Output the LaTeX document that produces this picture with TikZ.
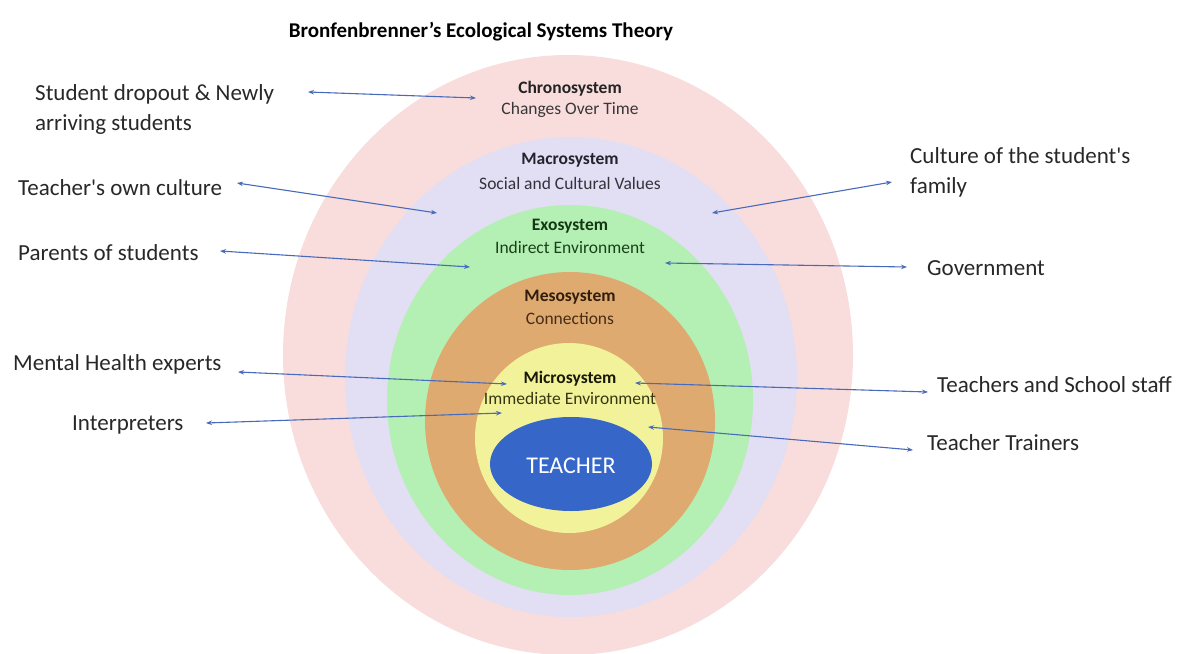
\documentclass[tikz,border=0pt]{standalone}
\usepackage{fontspec}
\setmainfont[Ligatures=TeXOff]{Carlito}
\usetikzlibrary{shapes.geometric,arrows.meta}
\definecolor{ringpink}{RGB}{249,221,221}
\definecolor{ringlav}{RGB}{226,222,243}
\definecolor{ringgreen}{RGB}{180,240,180}
\definecolor{ringbrown}{RGB}{222,170,112}
\definecolor{ringyellow}{RGB}{242,242,155}
\definecolor{coreblue}{RGB}{53,102,200}
\definecolor{arrowblue}{RGB}{72,106,186}
\definecolor{labelgray}{RGB}{40,40,40}
\tikzset{
  ring/.style={ellipse, draw=none, inner sep=0pt},
  sidelabel/.style={anchor=base west, inner sep=0pt, text=labelgray, font=\fontsize{23}{28}\selectfont},
  ringtitle/.style={anchor=base, inner sep=0pt, font=\fontsize{17.5}{20}\selectfont\bfseries},
  ringsub/.style={anchor=base, inner sep=0pt, font=\fontsize{17.5}{20}\selectfont},
  link/.style={draw=arrowblue, line width=1.1pt, {Stealth[length=6pt,width=4.5pt]}-{Stealth[length=6pt,width=4.5pt]}}
}
\begin{document}
\begin{tikzpicture}[x=1pt,y=-1pt]
\useasboundingbox (0,0) rectangle (1180,653);
\fill[white] (0,0) rectangle (1180,653);
\begin{scope}
\clip (0,0) rectangle (1180,653);
\node[ring, fill=ringpink, minimum width=570pt, minimum height=600pt] (chrono) at (568,355) {};
\node[ring, fill=ringlav, minimum width=452pt, minimum height=480pt] (macro) at (571,377) {};
\node[ring, fill=ringgreen, minimum width=366pt, minimum height=390pt] (exo) at (570,400) {};
\node[ring, fill=ringbrown, minimum width=290pt, minimum height=298pt] (meso) at (570,421) {};
\node[ring, fill=ringyellow, minimum width=188pt, minimum height=190pt] (micro) at (569,438) {};
\node[ring, fill=coreblue, minimum width=162pt, minimum height=94pt] (core) at (571,464) {};
\end{scope}

% title
\node[anchor=base, inner sep=0pt, font=\fontsize{21}{24}\selectfont\bfseries, text=black] (title) at (481,37) {Bronfenbrenner’s Ecological Systems Theory};

% ring labels
\node[ringtitle, text={rgb,255:red,35;green,35;blue,35}] (tchrono) at (570,93) {Chronosystem};
\node[ringsub, text={rgb,255:red,55;green,55;blue,55}] (schrono) at (570,114) {Changes Over Time};
\node[ringtitle, text={rgb,255:red,35;green,35;blue,45}] (tmacro) at (570,164) {Macrosystem};
\node[ringsub, text={rgb,255:red,50;green,50;blue,60}] (smacro) at (570,189) {Social and Cultural Values};
\node[ringtitle, text={rgb,255:red,20;green,55;blue,20}] (texo) at (570,230) {Exosystem};
\node[ringsub, text={rgb,255:red,25;green,65;blue,25}] (sexo) at (570,253) {Indirect Environment};
\node[ringtitle, text={rgb,255:red,50;green,30;blue,12}] (tmeso) at (570,301) {Mesosystem};
\node[ringsub, text={rgb,255:red,70;green,45;blue,20}] (smeso) at (570,324) {Connections};
\node[ringtitle, text={rgb,255:red,25;green,25;blue,8}] (tmicro) at (570,383) {Microsystem};
\node[ringsub, text={rgb,255:red,55;green,55;blue,18}] (smicro) at (570,404) {Immediate Environment};
\node[anchor=base, inner sep=0pt, font=\fontsize{24}{28}\selectfont, text=white] (tcore) at (571,473) {TEACHER};

% side labels
\node[sidelabel] (sd1) at (35,100) {Student dropout \& Newly};
\node[sidelabel] (sd2) at (35,130) {arriving students};
\node[sidelabel] (own) at (18,195) {Teacher's own culture};
\node[sidelabel] (par) at (18,260) {Parents of students};
\node[sidelabel] (men) at (13,370) {Mental Health experts};
\node[sidelabel] (int) at (72,430) {Interpreters};
\node[sidelabel] (cf1) at (910,163) {Culture of the student's};
\node[sidelabel] (cf2) at (910,193) {family};
\node[sidelabel] (gov) at (927,275) {Government};
\node[sidelabel] (tss) at (937,392) {Teachers and School staff};
\node[sidelabel] (ttr) at (927,450) {Teacher Trainers};

% arrow endpoints
\coordinate (a1l) at (308,92);  \coordinate (a1r) at (476,98);
\coordinate (a2l) at (237,183); \coordinate (a2r) at (437,213);
\coordinate (a3l) at (220,251); \coordinate (a3r) at (470,267);
\coordinate (a4l) at (712,213); \coordinate (a4r) at (892,182);
\coordinate (a5l) at (665,263); \coordinate (a5r) at (907,267);
\coordinate (a6l) at (238,372); \coordinate (a6r) at (507,384);
\coordinate (a7l) at (206,423); \coordinate (a7r) at (502,413);
\coordinate (a8l) at (635,383); \coordinate (a8r) at (928,392);
\coordinate (a9l) at (648,427); \coordinate (a9r) at (913,450);

\draw[link] (a1l) -- (a1r);
\draw[link] (a2l) -- (a2r);
\draw[link] (a3l) -- (a3r);
\draw[link] (a4l) -- (a4r);
\draw[link] (a5l) -- (a5r);
\draw[link] (a6l) -- (a6r);
\draw[link] (a7l) -- (a7r);
\draw[link] (a8l) -- (a8r);
\draw[link] (a9l) -- (a9r);
\end{tikzpicture}
\end{document}
